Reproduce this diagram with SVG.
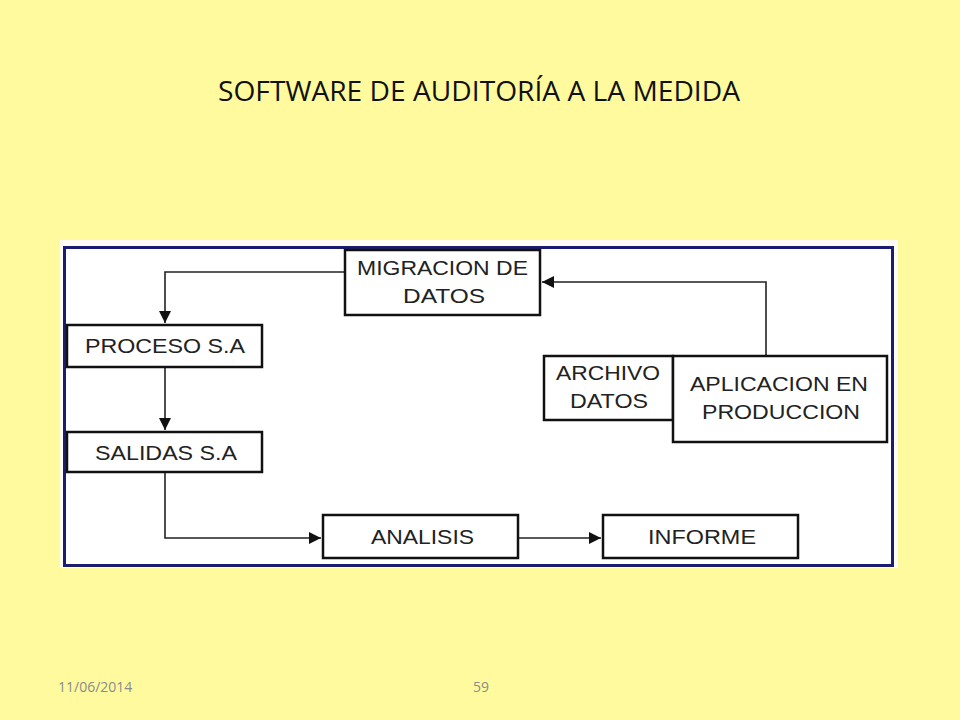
<svg xmlns="http://www.w3.org/2000/svg" width="960" height="720" viewBox="0 0 960 720">
<defs>
<style>
.box{fill:#fff;stroke:#111;stroke-width:2.5}
.lbl{font-family:"Liberation Sans",Arial,sans-serif;font-size:21px;fill:#222;text-anchor:middle}
.con{fill:none;stroke:#222;stroke-width:1.6}
.foot{font-family:"Open Sans",sans-serif;font-size:14px;fill:#8B8B8B}
</style>
<marker id="ahb" viewBox="0 0 10 10" refX="10" refY="5" markerWidth="15" markerHeight="12" orient="auto" markerUnits="userSpaceOnUse">
<path d="M0,0 L10,5 L0,10 z" fill="#111"/>
</marker>
</defs>
<rect width="960" height="720" fill="#FFFA9E"/>
<text x="479" y="101" font-family="'Open Sans',sans-serif" font-size="27" text-anchor="middle" fill="#111" textLength="522" lengthAdjust="spacingAndGlyphs">SOFTWARE DE AUDITORÍA A LA MEDIDA</text>
<rect x="60" y="240" width="838" height="328" fill="#FEFEF6"/>
<rect x="64.5" y="247.5" width="828" height="318" fill="#FFFFFF" stroke="#1C1C70" stroke-width="3"/>
<g id="connectors">
<path class="con" d="M345,272 H165 V323" marker-end="url(#ahb)"/>
<path class="con" d="M165,367 V430" marker-end="url(#ahb)"/>
<path class="con" d="M165,472 V538 H321" marker-end="url(#ahb)"/>
<path class="con" d="M518,538 H601" marker-end="url(#ahb)"/>
<path class="con" d="M766,356 V282 H542" marker-end="url(#ahb)"/>
</g>
<g id="migracion">
<rect class="box" x="345" y="250" width="195" height="65"/>
<text class="lbl" x="442.5" y="275" textLength="171" lengthAdjust="spacingAndGlyphs">MIGRACION DE</text>
<text class="lbl" x="444" y="303" textLength="82" lengthAdjust="spacingAndGlyphs">DATOS</text>
</g>
<g id="proceso">
<rect class="box" x="67" y="325" width="195" height="42"/>
<text class="lbl" x="165" y="353" textLength="160" lengthAdjust="spacingAndGlyphs">PROCESO S.A</text>
</g>
<g id="salidas">
<rect class="box" x="67" y="432" width="195" height="40"/>
<text class="lbl" x="166" y="460" textLength="142" lengthAdjust="spacingAndGlyphs">SALIDAS S.A</text>
</g>
<g id="archivo">
<rect class="box" x="544" y="356" width="129" height="64"/>
<text class="lbl" x="608" y="380" textLength="104" lengthAdjust="spacingAndGlyphs">ARCHIVO</text>
<text class="lbl" x="609" y="408" textLength="78" lengthAdjust="spacingAndGlyphs">DATOS</text>
</g>
<g id="aplicacion">
<rect class="box" x="673" y="356" width="214" height="86"/>
<text class="lbl" x="779" y="391" textLength="178" lengthAdjust="spacingAndGlyphs">APLICACION EN</text>
<text class="lbl" x="781" y="419" textLength="158" lengthAdjust="spacingAndGlyphs">PRODUCCION</text>
</g>
<g id="analisis">
<rect class="box" x="323" y="515" width="195" height="43"/>
<text class="lbl" x="422.5" y="544" textLength="103" lengthAdjust="spacingAndGlyphs">ANALISIS</text>
</g>
<g id="informe">
<rect class="box" x="603" y="515" width="195" height="43"/>
<text class="lbl" x="702" y="544" textLength="108" lengthAdjust="spacingAndGlyphs">INFORME</text>
</g>
<text class="foot" x="58" y="692">11/06/2014</text>
<text class="foot" x="481" y="692" text-anchor="middle">59</text>
</svg>
